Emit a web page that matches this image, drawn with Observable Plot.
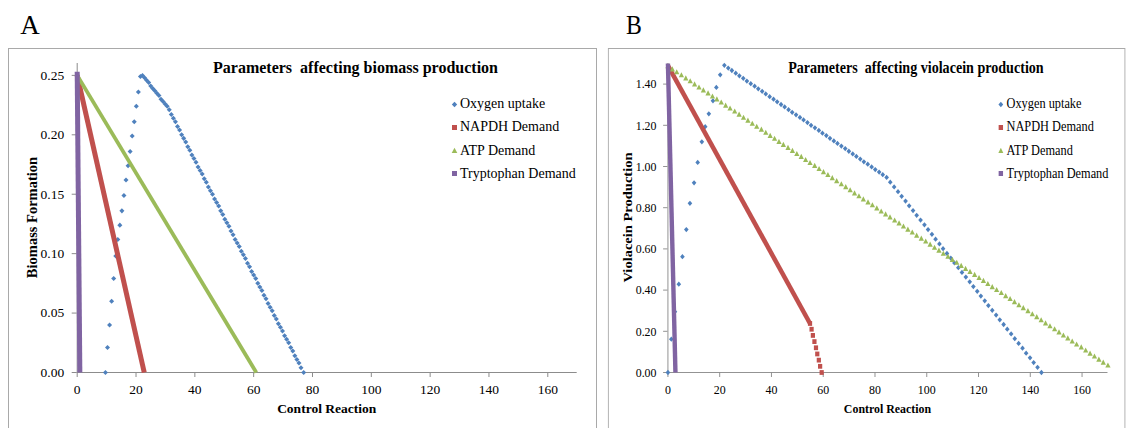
<!DOCTYPE html>
<html><head><meta charset="utf-8">
<script src="https://cdn.jsdelivr.net/npm/d3@7"></script>
<script src="https://cdn.jsdelivr.net/npm/@observablehq/plot@0.6"></script>
<style>
html,body{margin:0;padding:0;background:#fff;}
body{width:1128px;height:428px;overflow:hidden;position:relative;font-family:"Liberation Serif","Times New Roman",serif;color:#000;}
.panel{position:absolute;top:0;width:600px;height:428px;transform-origin:0 0;}
.box{position:absolute;top:47.5px;height:420px;border:1.5px solid #a9a9a9;box-sizing:border-box;}
.letter{position:absolute;font-size:27px;line-height:27px;white-space:nowrap;}
.title{position:absolute;width:400px;text-align:center;font-size:16px;line-height:16px;font-weight:bold;white-space:pre;}
.leg{position:absolute;font-size:14px;line-height:14px;white-space:nowrap;}
.sym{position:absolute;}
.xlab{position:absolute;width:200px;text-align:center;font-size:13.5px;line-height:14px;font-weight:bold;}
.ylab{position:absolute;width:220px;height:15px;text-align:center;font-size:14.5px;line-height:15px;font-weight:bold;transform:rotate(-90deg);transform-origin:50% 50%;white-space:nowrap;}
.panel svg.chart{position:absolute;left:0;top:0;}
.panel svg g[aria-label="x-axis tick"] path,.panel svg g[aria-label="y-axis tick"] path,
.panel svg g[aria-label="x-axis"] line,.panel svg g[aria-label="y-axis"] line{stroke:#8c8c8c;}
</style>
</head><body>
<script>
// ---------- data ----------
const seriesNames = ["Oxygen uptake", "NAPDH Demand", "ATP Demand", "Tryptophan Demand"];
const seriesColors = ["#4F81BD", "#C0504D", "#9BBB59", "#8064A2"];
const xTicks = [0, 20, 40, 60, 80, 100, 120, 140, 160];
const yTicksA = [0, 0.05, 0.10, 0.15, 0.20, 0.25];
const yTicksB = [0, 0.2, 0.4, 0.6, 0.8, 1.0, 1.2, 1.4];

// Panel A : biomass production
const oxygenA = [[9.6,0],[10.3,0.021],[11.0,0.040],[11.7,0.060],[12.4,0.079],[13.1,0.098],[13.8,0.112],[14.5,0.124],[15.2,0.136],[15.9,0.149],[16.6,0.162],[17.3,0.174],[18.0,0.186],[18.7,0.199],[19.4,0.211],[20.1,0.224],[20.8,0.236],[21.5,0.249],[22.2,0.250],[22.9,0.248],[23.6,0.246],[24.3,0.244],[25.0,0.241],[25.7,0.239],[26.4,0.237],[27.1,0.235],[27.8,0.233],[28.5,0.230],[29.2,0.228],[29.9,0.226],[30.6,0.224],[31.3,0.221],[32.0,0.217],[32.7,0.214],[33.4,0.211],[34.1,0.207],[34.8,0.204],[35.5,0.200],[36.2,0.197],[36.9,0.194],[37.6,0.190],[38.3,0.187],[39.0,0.183],[39.7,0.180],[40.4,0.177],[41.1,0.173],[41.8,0.170],[42.5,0.167],[43.2,0.163],[43.9,0.160],[44.6,0.156],[45.3,0.153],[46.0,0.150],[46.7,0.146],[47.4,0.143],[48.1,0.140],[48.8,0.136],[49.5,0.133],[50.2,0.129],[50.9,0.126],[51.6,0.123],[52.3,0.119],[53.0,0.116],[53.7,0.112],[54.4,0.109],[55.1,0.106],[55.8,0.102],[56.5,0.099],[57.2,0.096],[57.9,0.092],[58.6,0.089],[59.3,0.085],[60.0,0.082],[60.7,0.079],[61.4,0.075],[62.1,0.072],[62.8,0.069],[63.5,0.065],[64.2,0.062],[64.9,0.058],[65.6,0.055],[66.3,0.052],[67.0,0.048],[67.7,0.045],[68.4,0.041],[69.1,0.038],[69.8,0.035],[70.5,0.031],[71.2,0.028],[71.9,0.025],[72.6,0.021],[73.3,0.018],[74.0,0.014],[74.7,0.011],[75.4,0.008],[76.1,0.004],[77.0,0.000]];
const napdhA = [[0,0.250],[22.8,0]];
const atpA = [[0,0.250],[60.9,0]];
const tryptophanA = [[0,0.253],[0.9,0]];

// Panel B : violacein production
const oxygenB = [[0,0],[1.3,0.162],[2.7,0.295],[4.2,0.429],[5.6,0.562],[7.1,0.694],[8.5,0.821],[10.1,0.921],[11.5,1.020],[13.1,1.120],[14.4,1.193],[15.8,1.256],[17.4,1.319],[18.7,1.384],[20.2,1.445],[21.8,1.491],[23.3,1.478],[24.7,1.466],[26.2,1.453],[27.6,1.440],[29.1,1.428],[30.5,1.415],[32.0,1.402],[33.5,1.390],[34.9,1.377],[36.4,1.365],[37.8,1.352],[39.3,1.339],[40.8,1.327],[42.2,1.314],[43.7,1.301],[45.1,1.289],[46.6,1.276],[48.0,1.263],[49.5,1.251],[51.0,1.238],[52.4,1.226],[53.9,1.213],[55.3,1.200],[56.8,1.188],[58.3,1.175],[59.7,1.162],[61.2,1.150],[62.6,1.137],[64.1,1.124],[65.5,1.112],[67.0,1.099],[68.5,1.087],[69.9,1.074],[71.4,1.061],[72.8,1.049],[74.3,1.036],[75.7,1.023],[77.2,1.011],[78.7,0.998],[80.1,0.985],[81.6,0.973],[83.0,0.960],[84.5,0.947],[85.9,0.924],[87.4,0.901],[88.9,0.878],[90.3,0.855],[91.8,0.832],[93.2,0.809],[94.7,0.786],[96.1,0.763],[97.6,0.740],[99.1,0.717],[100.5,0.694],[102.0,0.671],[103.4,0.647],[104.9,0.624],[106.3,0.601],[107.8,0.578],[109.3,0.555],[110.7,0.532],[112.2,0.509],[113.6,0.486],[115.1,0.463],[116.6,0.440],[118.0,0.417],[119.5,0.394],[120.9,0.371],[122.4,0.348],[123.8,0.325],[125.3,0.302],[126.8,0.279],[128.2,0.256],[129.7,0.233],[131.1,0.210],[132.6,0.187],[134.0,0.164],[135.5,0.141],[137.0,0.118],[138.4,0.094],[139.9,0.071],[141.3,0.048],[142.8,0.025],[144.3,0.000]];
const napdhB = [[0,1.490],[54.9,0.238]];
const napdhBTail = [[54.9,0.238],[55.5,0.210],[56.0,0.180],[56.6,0.150],[57.2,0.120],[57.7,0.090],[58.3,0.060],[58.8,0.030],[59.4,0.000]];
const atpB = [[0,1.485],[1.7,1.470],[3.4,1.456],[5.2,1.441],[6.9,1.426],[8.6,1.412],[10.3,1.397],[12.0,1.382],[13.7,1.368],[15.5,1.353],[17.2,1.338],[18.9,1.324],[20.6,1.309],[22.3,1.294],[24.0,1.280],[25.8,1.265],[27.5,1.250],[29.2,1.235],[30.9,1.221],[32.6,1.206],[34.3,1.191],[36.1,1.177],[37.8,1.162],[39.5,1.147],[41.2,1.133],[42.9,1.118],[44.6,1.103],[46.4,1.089],[48.1,1.074],[49.8,1.059],[51.5,1.045],[53.2,1.030],[54.9,1.015],[56.7,1.001],[58.4,0.986],[60.1,0.971],[61.8,0.957],[63.5,0.942],[65.2,0.927],[67.0,0.912],[68.7,0.898],[70.4,0.883],[72.1,0.868],[73.8,0.854],[75.5,0.839],[77.3,0.824],[79.0,0.810],[80.7,0.795],[82.4,0.780],[84.1,0.766],[85.8,0.751],[87.6,0.736],[89.3,0.722],[91.0,0.707],[92.7,0.692],[94.4,0.678],[96.1,0.663],[97.9,0.648],[99.6,0.634],[101.3,0.619],[103.0,0.604],[104.7,0.590],[106.4,0.575],[108.2,0.560],[109.9,0.545],[111.6,0.531],[113.3,0.516],[115.0,0.501],[116.7,0.487],[118.5,0.472],[120.2,0.457],[121.9,0.443],[123.6,0.428],[125.3,0.413],[127.0,0.399],[128.8,0.384],[130.5,0.369],[132.2,0.355],[133.9,0.340],[135.6,0.325],[137.3,0.311],[139.1,0.296],[140.8,0.281],[142.5,0.267],[144.2,0.252],[145.9,0.237],[147.6,0.223],[149.4,0.208],[151.1,0.193],[152.8,0.178],[154.5,0.164],[156.2,0.149],[157.9,0.134],[159.7,0.120],[161.4,0.105],[163.1,0.090],[164.8,0.076],[166.5,0.061],[168.2,0.046],[170.0,0.032]];
const tryptophanB = [[0,1.500],[2.9,0]];

// ---------- drawing ----------
const X = d => d[0], Y = d => d[1];
const [cO, cN, cA, cT] = seriesColors;
const SERIF = '"Liberation Serif","Times New Roman",serif';

function buildPanel(cfg) {
  const p = document.createElement("div");
  p.className = "panel";
  p.style.left = cfg.left + "px";
  if (cfg.scaleX !== 1) p.style.transform = `scaleX(${cfg.scaleX})`;
  document.body.appendChild(p);

  const box = document.createElement("div");
  box.className = "box";
  box.style.left = cfg.boxLeft + "px";
  box.style.width = (597 - cfg.boxLeft) + "px";
  p.appendChild(box);

  const svg = Plot.plot({
    width: 600, height: 428,
    marginLeft: 76.7, marginRight: 23.3, marginTop: 63, marginBottom: 56,
    style: {background: "transparent", overflow: "visible", fontFamily: SERIF, fontSize: "13.5px"},
    x: {domain: [0, 170], ticks: xTicks, tickFormat: d => String(d), tickSize: 5, tickPadding: 7, label: null},
    y: {domain: cfg.yDomain, ticks: cfg.yTicks, tickFormat: d3.format(".2f"), tickSize: 5, tickPadding: 8, label: null},
    marks: [
      Plot.ruleY([0], {stroke: "#8c8c8c", strokeWidth: 1}),
      Plot.ruleX([0], {stroke: "#8c8c8c", strokeWidth: 1}),
      ...cfg.marks
    ]
  });
  svg.classList.add("chart");
  svg.setAttribute("font-family", SERIF);
  svg.querySelectorAll("text").forEach(t => {
    t.style.fontFamily = SERIF;
    t.style.fontSize = "13.5px";
    t.style.fill = "#000";
  });
  p.appendChild(svg);

  const letter = document.createElement("div");
  letter.className = "letter";
  letter.textContent = cfg.letter;
  letter.style.left = cfg.letterLeft + "px";
  letter.style.top = "11.7px";
  p.appendChild(letter);

  const title = document.createElement("div");
  title.className = "title";
  title.textContent = cfg.title;
  title.style.left = (cfg.titleCx - 200) + "px";
  title.style.top = "60px";
  p.appendChild(title);

  const rows = [104, 127.3, 150.7, 173.7];
  const shapes = [
    '<path d="M3.5,0.8 L6.2,3.5 L3.5,6.2 L0.8,3.5Z"/>',
    '<rect x="1" y="1" width="5" height="5"/>',
    '<path d="M3.5,0.8 L6.3,6 L0.7,6Z"/>',
    '<rect x="1" y="1" width="5" height="5"/>'
  ];
  seriesNames.forEach((name, i) => {
    const s = document.createElement("div");
    s.className = "sym";
    s.style.left = (cfg.legSymX - 3.5) + "px";
    s.style.top = (rows[i] - 3.5) + "px";
    s.innerHTML = `<svg width="7" height="7" style="display:block" fill="${seriesColors[i]}">${shapes[i]}</svg>`;
    p.appendChild(s);
    const t = document.createElement("div");
    t.className = "leg";
    t.textContent = name;
    t.style.left = cfg.legTextX + "px";
    t.style.top = (rows[i] - 7) + "px";
    p.appendChild(t);
  });

  const xl = document.createElement("div");
  xl.className = "xlab";
  xl.textContent = "Control Reaction";
  xl.style.left = (326.7 - 100) + "px";
  xl.style.top = "402px";
  p.appendChild(xl);

  const yl = document.createElement("div");
  yl.className = "ylab";
  yl.textContent = cfg.ylabel;
  yl.style.left = (31.6 - 110) + "px";
  yl.style.top = (217.5 - 7.5) + "px";
  p.appendChild(yl);
}

buildPanel({
  left: 0, scaleX: 1, boxLeft: 7.7, letter: "A", letterLeft: 20.2,
  title: "Parameters  affecting biomass production", titleCx: 355.5,
  legSymX: 454, legTextX: 460,
  ylabel: "Biomass Formation",
  yDomain: [0, 0.26], yTicks: yTicksA,
  marks: [
    Plot.dot(oxygenA, {x: X, y: Y, symbol: "square", rotate: 45, fill: cO, r: 2.0}),
    Plot.line(napdhA, {x: X, y: Y, stroke: cN, strokeWidth: 5, strokeLinecap: "butt"}),
    Plot.line(atpA, {x: X, y: Y, stroke: cA, strokeWidth: 3.8, strokeLinecap: "butt"}),
    Plot.line(tryptophanA, {x: X, y: Y, stroke: cT, strokeWidth: 5, strokeLinecap: "butt"})
  ]
});

buildPanel({
  left: 600, scaleX: 0.88, boxLeft: 9, letter: "B", letterLeft: 29.5,
  title: "Parameters  affecting violacein production", titleCx: 359,
  legSymX: 455, legTextX: 462,
  ylabel: "Violacein Production",
  yDomain: [0, 1.5], yTicks: yTicksB,
  marks: [
    Plot.dot(oxygenB, {x: X, y: Y, symbol: "square", rotate: 45, fill: cO, r: 2.1}),
    Plot.line(napdhB, {x: X, y: Y, stroke: cN, strokeWidth: 5, strokeLinecap: "butt"}),
    Plot.dot(napdhBTail, {x: X, y: Y, symbol: "square", fill: cN, r: 2.7}),
    Plot.dot(atpB, {x: X, y: Y, symbol: "triangle", fill: cA, r: 2.2}),
    Plot.line(tryptophanB, {x: X, y: Y, stroke: cT, strokeWidth: 5, strokeLinecap: "butt"})
  ]
});
</script>
</body></html>
